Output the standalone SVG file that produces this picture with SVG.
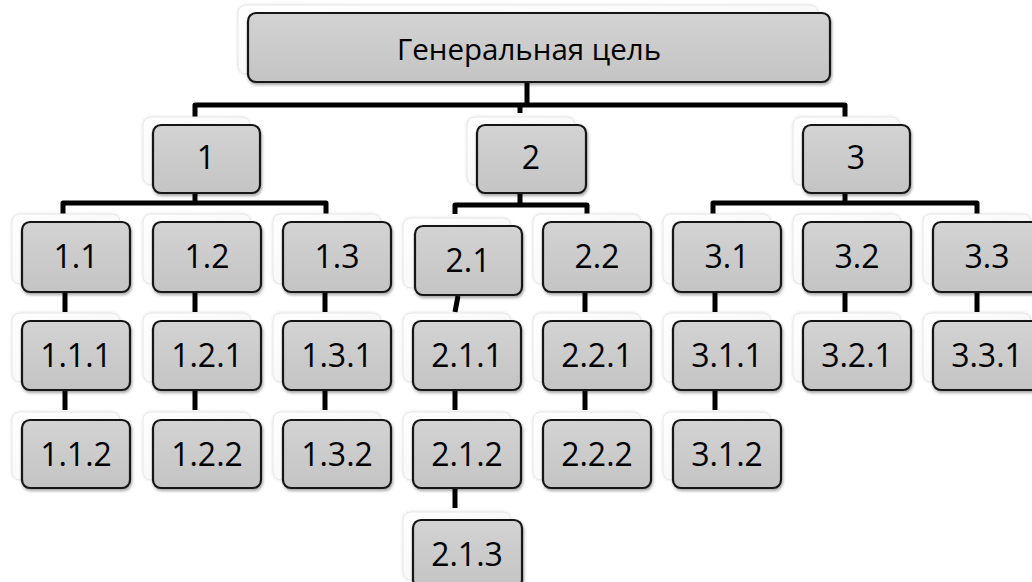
<svg xmlns="http://www.w3.org/2000/svg" width="1032" height="582" viewBox="0 0 1032 582">
<defs>
<linearGradient id="gf" x1="0" y1="0" x2="0" y2="1">
<stop offset="0" stop-color="#d3d3d3"/>
<stop offset="1" stop-color="#c4c4c4"/>
</linearGradient>
<linearGradient id="gg" x1="0" y1="0" x2="1" y2="1">
<stop offset="0" stop-color="#ffffff"/>
<stop offset="1" stop-color="#f3f3f3"/>
</linearGradient>
<filter id="sh" x="-10%" y="-10%" width="125%" height="130%">
<feDropShadow dx="1" dy="2" stdDeviation="1.5" flood-color="#000" flood-opacity="0.35"/>
</filter>
<filter id="gs" x="-10%" y="-10%" width="125%" height="130%">
<feDropShadow dx="0" dy="0" stdDeviation="1.5" flood-color="#000" flood-opacity="0.12"/>
</filter>
</defs>
<style>
.ghost{fill:url(#gg);stroke:#e6e6e6;stroke-width:1;filter:url(#gs)}
.box{fill:url(#gf);stroke:#161616;stroke-width:2.2;filter:url(#sh)}
.t{font-family:"Open Sans","Liberation Sans",sans-serif;font-size:32px;fill:#000;text-anchor:middle}
.big{font-size:29.5px}
.c{stroke:#000;stroke-width:5;fill:none;stroke-linecap:butt;stroke-linejoin:round}
</style>
<rect width="1032" height="582" fill="#ffffff"/>

<g id="connectors">
<path class="c" d="M527 82V105M195 117V105H845V117M520 105V113"/>
<path class="c" d="M195 192V203M63 214V203H326V214"/>
<path class="c" d="M520 193V205M455 214V205H587V214"/>
<path class="c" d="M845 192V203M713 214V203H977V214"/>
<path class="c" d="M65 292V312M195 292V312M325 292V312M458 296L455 312M585 292V312M715 292V312M845 292V312M977 292V312"/>
<path class="c" d="M65 390V410M195 390V410M325 390V410M455 390V410M585 390V410M715 390V410"/>
<path class="c" d="M455 488V508"/>
</g>

<g id="n-root"><rect class="ghost" x="238" y="5" width="580" height="69" rx="8"/><rect class="box" x="248" y="13" width="582" height="69" rx="8"/><text class="t big" x="529" y="60">Генеральная цель</text></g>

<g id="n-1"><rect class="ghost" x="143" y="117" width="107" height="68" rx="8"/><rect class="box" x="153" y="125" width="107" height="68" rx="8"/><text class="t" x="206" y="169">1</text></g>
<g id="n-2"><rect class="ghost" x="467" y="117" width="108" height="68" rx="8"/><rect class="box" x="477" y="125" width="109" height="68" rx="8"/><text class="t" x="531" y="169">2</text></g>
<g id="n-3"><rect class="ghost" x="793" y="117" width="107" height="68" rx="8"/><rect class="box" x="803" y="125" width="107" height="68" rx="8"/><text class="t" x="856" y="169">3</text></g>

<g id="n-1-1"><rect class="ghost" x="12" y="214" width="108" height="70" rx="8"/><rect class="box" x="22" y="222" width="108" height="70" rx="8"/><text class="t" x="76" y="268">1.1</text></g>
<g id="n-1-2"><rect class="ghost" x="143" y="214" width="108" height="70" rx="8"/><rect class="box" x="153" y="222" width="108" height="70" rx="8"/><text class="t" x="207" y="268">1.2</text></g>
<g id="n-1-3"><rect class="ghost" x="273" y="214" width="108" height="70" rx="8"/><rect class="box" x="283" y="222" width="108" height="70" rx="8"/><text class="t" x="337" y="268">1.3</text></g>
<g id="n-2-1"><rect class="ghost" x="403" y="218" width="108" height="70" rx="8"/><rect class="box" x="415" y="226" width="107" height="69" rx="8"/><text class="t" x="468" y="272">2.1</text></g>
<g id="n-2-2"><rect class="ghost" x="533" y="214" width="108" height="70" rx="8"/><rect class="box" x="543" y="222" width="108" height="70" rx="8"/><text class="t" x="597" y="268">2.2</text></g>
<g id="n-3-1"><rect class="ghost" x="663" y="214" width="108" height="70" rx="8"/><rect class="box" x="673" y="222" width="108" height="70" rx="8"/><text class="t" x="727" y="268">3.1</text></g>
<g id="n-3-2"><rect class="ghost" x="793" y="214" width="108" height="70" rx="8"/><rect class="box" x="803" y="222" width="108" height="70" rx="8"/><text class="t" x="857" y="268">3.2</text></g>
<g id="n-3-3"><rect class="ghost" x="923" y="214" width="108" height="70" rx="8"/><rect class="box" x="933" y="222" width="108" height="70" rx="8"/><text class="t" x="987" y="268">3.3</text></g>

<g id="n-1-1-1"><rect class="ghost" x="12" y="313" width="108" height="69" rx="8"/><rect class="box" x="22" y="321" width="108" height="69" rx="8"/><text class="t" x="76" y="367">1.1.1</text></g>
<g id="n-1-2-1"><rect class="ghost" x="143" y="313" width="108" height="69" rx="8"/><rect class="box" x="153" y="321" width="108" height="69" rx="8"/><text class="t" x="207" y="367">1.2.1</text></g>
<g id="n-1-3-1"><rect class="ghost" x="273" y="313" width="108" height="69" rx="8"/><rect class="box" x="283" y="321" width="108" height="69" rx="8"/><text class="t" x="337" y="367">1.3.1</text></g>
<g id="n-2-1-1"><rect class="ghost" x="403" y="313" width="108" height="69" rx="8"/><rect class="box" x="413" y="321" width="108" height="69" rx="8"/><text class="t" x="467" y="367">2.1.1</text></g>
<g id="n-2-2-1"><rect class="ghost" x="533" y="313" width="108" height="69" rx="8"/><rect class="box" x="543" y="321" width="108" height="69" rx="8"/><text class="t" x="597" y="367">2.2.1</text></g>
<g id="n-3-1-1"><rect class="ghost" x="663" y="313" width="108" height="69" rx="8"/><rect class="box" x="673" y="321" width="108" height="69" rx="8"/><text class="t" x="727" y="367">3.1.1</text></g>
<g id="n-3-2-1"><rect class="ghost" x="793" y="313" width="108" height="69" rx="8"/><rect class="box" x="803" y="321" width="108" height="69" rx="8"/><text class="t" x="857" y="367">3.2.1</text></g>
<g id="n-3-3-1"><rect class="ghost" x="923" y="313" width="108" height="69" rx="8"/><rect class="box" x="933" y="321" width="108" height="69" rx="8"/><text class="t" x="987" y="367">3.3.1</text></g>

<g id="n-1-1-2"><rect class="ghost" x="12" y="412" width="108" height="68" rx="8"/><rect class="box" x="22" y="420" width="108" height="68" rx="8"/><text class="t" x="76" y="466">1.1.2</text></g>
<g id="n-1-2-2"><rect class="ghost" x="143" y="412" width="108" height="68" rx="8"/><rect class="box" x="153" y="420" width="108" height="68" rx="8"/><text class="t" x="207" y="466">1.2.2</text></g>
<g id="n-1-3-2"><rect class="ghost" x="273" y="412" width="108" height="68" rx="8"/><rect class="box" x="283" y="420" width="108" height="68" rx="8"/><text class="t" x="337" y="466">1.3.2</text></g>
<g id="n-2-1-2"><rect class="ghost" x="403" y="412" width="108" height="68" rx="8"/><rect class="box" x="413" y="420" width="108" height="68" rx="8"/><text class="t" x="467" y="466">2.1.2</text></g>
<g id="n-2-2-2"><rect class="ghost" x="533" y="412" width="108" height="68" rx="8"/><rect class="box" x="543" y="420" width="108" height="68" rx="8"/><text class="t" x="597" y="466">2.2.2</text></g>
<g id="n-3-1-2"><rect class="ghost" x="663" y="412" width="108" height="68" rx="8"/><rect class="box" x="673" y="420" width="108" height="68" rx="8"/><text class="t" x="727" y="466">3.1.2</text></g>

<g id="n-2-1-3"><rect class="ghost" x="403" y="512" width="108" height="68" rx="8"/><rect class="box" x="413" y="520" width="109" height="68" rx="8"/><text class="t" x="467" y="566">2.1.3</text></g>
</svg>
